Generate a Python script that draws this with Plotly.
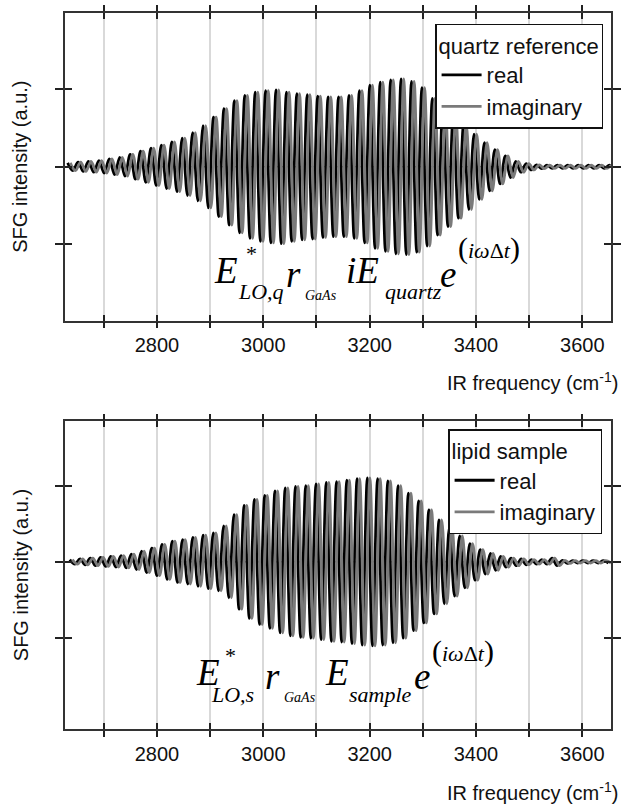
import plotly.graph_objects as go

# ---------------- data ----------------
# positions of the maxima of the real-part fringes (cm^-1) and fringe amplitudes (a.u.)
quartz_fringe_x = [2632.0, 2651.6, 2671.2, 2690.8, 2710.4, 2730.0, 2749.6, 2769.2, 2788.8, 2808.4,
                   2828.0, 2847.6, 2867.2, 2886.8, 2906.4, 2926.0, 2945.6, 2965.2, 2984.8, 3004.4,
                   3024.0, 3043.6, 3063.2, 3082.8, 3102.4, 3122.0, 3141.6, 3161.2, 3180.8, 3200.4,
                   3220.0, 3239.6, 3259.2, 3278.8, 3298.4, 3318.0, 3337.6, 3357.2, 3376.8, 3396.4,
                   3416.0, 3435.6, 3455.2, 3474.8, 3494.4, 3514.0, 3533.6, 3553.2, 3572.8, 3592.4,
                   3612.0, 3631.6, 3651.2]
quartz_amp = [0.05, 0.06, 0.07, 0.08, 0.10, 0.12, 0.16, 0.20, 0.24, 0.28,
              0.32, 0.37, 0.44, 0.53, 0.64, 0.75, 0.85, 0.92, 0.96, 0.98,
              0.99, 0.96, 0.94, 0.93, 0.91, 0.90, 0.90, 0.92, 0.98, 1.05,
              1.09, 1.12, 1.13, 1.10, 1.02, 0.88, 0.77, 0.66, 0.55, 0.42,
              0.31, 0.22, 0.14, 0.07, 0.04, 0.025, 0.02, 0.02, 0.02, 0.02,
              0.02, 0.02, 0.02]

sample_fringe_x = [2636.0, 2655.3, 2674.6, 2693.9, 2713.2, 2732.5, 2751.8, 2771.1, 2790.4, 2809.7,
                   2829.0, 2848.3, 2867.6, 2886.9, 2906.2, 2925.5, 2944.8, 2964.1, 2983.4, 3002.7,
                   3022.0, 3041.3, 3060.6, 3079.9, 3099.2, 3118.5, 3137.8, 3157.1, 3176.4, 3195.7,
                   3215.0, 3234.3, 3253.6, 3272.9, 3292.2, 3311.5, 3330.8, 3350.1, 3369.4, 3388.7,
                   3408.0, 3427.3, 3446.6, 3465.9, 3485.2, 3504.5, 3523.8, 3543.1, 3562.4, 3581.7,
                   3601.0, 3620.3, 3639.6]
sample_amp = [0.03, 0.04, 0.05, 0.06, 0.07, 0.08, 0.10, 0.14, 0.18, 0.23,
              0.27, 0.29, 0.32, 0.35, 0.38, 0.47, 0.62, 0.74, 0.82, 0.87,
              0.93, 0.97, 0.99, 1.00, 1.02, 1.04, 1.05, 1.07, 1.09, 1.10,
              1.09, 1.06, 1.00, 0.90, 0.80, 0.68, 0.55, 0.45, 0.34, 0.24,
              0.16, 0.11, 0.07, 0.05, 0.04, 0.03, 0.03, 0.05, 0.02, 0.015,
              0.015, 0.015, 0.015]

x_label_vals = [2800, 3000, 3200, 3400, 3600]
x_label_text = ["2800", "3000", "3200", "3400", "3600"]
x_minor_step = 100
y_tick_vals = [-1, 0, 1]

series_names = ["real", "imaginary"]
legend_titles = ["quartz reference", "lipid sample"]

# ---------------- helpers ----------------
W, H = 626, 811
ML, MR, MT, MB = 65, 9, 5, 82
PW, PH = W - ML - MR, H - MT - MB


def px(x):
    return (x - ML) / PW


def py(y):
    return 1 - (y - MT) / PH


def fringe_trace(fx, amp, phase):
    xs, ys = [], []
    n = len(fx)
    for k in range(n):
        step = (fx[k + 1] - fx[k]) if k + 1 < n else (fx[k] - fx[k - 1])
        x0 = fx[k] + phase * step
        xs += [x0, x0 + step / 2]
        ys += [amp[k], -amp[k]]
    return xs, ys


fig = go.Figure()
REAL_C, IMAG_C = "#000000", "#7a7a7a"
panels = [("x", "y", quartz_fringe_x, quartz_amp, "legend"),
          ("x2", "y2", sample_fringe_x, sample_amp, "legend2")]
for xa, ya, fx, amp, lg in panels:
    for name, col, ph in [(series_names[0], REAL_C, 0.0), (series_names[1], IMAG_C, 0.25)]:
        xs, ys = fringe_trace(fx, amp, ph)
        fig.add_trace(go.Scatter(x=xs, y=ys, mode="lines", name=name, xaxis=xa, yaxis=ya,
                                 legend=lg, line=dict(color=col, width=2.8, shape="spline")))

# empty traces to create overlay axes (for ticks crossing the frame)
fig.add_trace(go.Scatter(x=[], y=[], xaxis="x3", yaxis="y3", showlegend=False))
fig.add_trace(go.Scatter(x=[], y=[], xaxis="x4", yaxis="y4", showlegend=False))

XR = [2627, 3654]
YR1 = [-1.98, 1.98]
YR2 = [-2.19, 1.84]
TOP_DOM = [1 - (316 - MT) / PH, 1.0]
BOT_DOM = [0.0, 1 - (418 - MT) / PH]

FONT = "Liberation Sans, Arial, sans-serif"
TICKC = "#222"
common_x = dict(range=XR, tickmode="array", tickvals=x_label_vals, ticktext=x_label_text,
                ticks="outside", ticklen=6, tickwidth=1.5, tickcolor=TICKC,
                showline=True, linecolor="#333", linewidth=1.5, mirror="ticks",
                showgrid=True, gridcolor="#d9d9d9", gridwidth=1.5, zeroline=False,
                minor=dict(tick0=x_label_vals[0], dtick=x_minor_step, ticks="outside", ticklen=6,
                           tickwidth=1.5, tickcolor=TICKC, showgrid=True,
                           gridcolor="#d9d9d9", gridwidth=1.5),
                tickfont=dict(family=FONT, size=20, color="#111"))
common_y = dict(tickmode="array", tickvals=y_tick_vals, showticklabels=False,
                ticks="outside", ticklen=8, tickwidth=1.5, tickcolor=TICKC,
                showline=True, linecolor="#333", linewidth=1.5, mirror="ticks",
                showgrid=False, zeroline=False)
overlay_x = dict(range=XR, tickmode="array", tickvals=x_label_vals, showticklabels=False,
                 ticks="inside", ticklen=6, tickwidth=1.5, tickcolor=TICKC,
                 showline=True, linecolor="#333", linewidth=1.5, mirror="ticks",
                 showgrid=False, zeroline=False,
                 minor=dict(tick0=x_label_vals[0], dtick=x_minor_step, ticks="inside", ticklen=6,
                            tickwidth=1.5, tickcolor=TICKC, showgrid=False))
overlay_y = dict(tickmode="array", tickvals=y_tick_vals, showticklabels=False,
                 ticks="inside", ticklen=7, tickwidth=1.5, tickcolor=TICKC,
                 showline=True, linecolor="#333", linewidth=1.5, mirror="ticks",
                 showgrid=False, zeroline=False)

LEG_FONT = dict(family=FONT, size=22, color="#111")
fig.update_layout(
    width=W, height=H, margin=dict(l=ML, r=MR, t=MT, b=MB),
    paper_bgcolor="white", plot_bgcolor="white",
    xaxis=dict(domain=[0, 1], anchor="y", **common_x),
    yaxis=dict(domain=TOP_DOM, anchor="x", range=YR1, **common_y),
    xaxis2=dict(domain=[0, 1], anchor="y2", **common_x),
    yaxis2=dict(domain=BOT_DOM, anchor="x2", range=YR2, **common_y),
    xaxis3=dict(overlaying="x", anchor="y3", **overlay_x),
    yaxis3=dict(overlaying="y", anchor="x3", range=YR1, **overlay_y),
    xaxis4=dict(overlaying="x2", anchor="y4", **overlay_x),
    yaxis4=dict(overlaying="y2", anchor="x4", range=YR2, **overlay_y),
    showlegend=True,
    legend=dict(title=dict(text=legend_titles[0], font=LEG_FONT), font=LEG_FONT,
                x=px(609), xanchor="right", y=py(16), yanchor="top",
                bgcolor="white", bordercolor="#111", borderwidth=1.5,
                tracegroupgap=0, itemwidth=40),
    legend2=dict(title=dict(text=legend_titles[1], font=LEG_FONT), font=LEG_FONT,
                 x=px(608), xanchor="right", y=py(426), yanchor="top",
                 bgcolor="white", bordercolor="#111", borderwidth=1.5,
                 tracegroupgap=0, itemwidth=40),
)

# dotted zero lines
for xr, yr in [("x", "y"), ("x2", "y2")]:
    fig.add_shape(type="line", xref=xr, yref=yr, x0=XR[0], x1=XR[1], y0=0, y1=0,
                  line=dict(color="#222", width=1, dash="dot"), layer="below")

# axis titles
for ycen in [160, 573]:
    fig.add_annotation(text="SFG intensity (a.u.)", xref="paper", yref="paper",
                       x=px(20), y=py(ycen), textangle=-90, showarrow=False,
                       font=dict(family=FONT, size=20, color="#111"),
                       xanchor="center", yanchor="middle")
for ycen in [378, 792]:
    fig.add_annotation(text="IR frequency (cm<sup>-1</sup>)", xref="paper", yref="paper",
                       x=px(626), y=py(ycen), showarrow=False,
                       font=dict(family=FONT, size=20, color="#111"),
                       xanchor="right", yanchor="middle")

# formulas (Times italic pieces)
SERIF = "Liberation Serif, Times New Roman, serif"


def piece(text, x, y, size):
    fig.add_annotation(text=text, xref="paper", yref="paper", x=px(x), y=py(y),
                       showarrow=False, xanchor="left", yanchor="middle",
                       font=dict(family=SERIF, size=size, color="#000"))


PAREN = "<span style='font-size:30px'>(</span><i>iω</i>Δ<i>t</i><span style='font-size:30px'>)</span>"
top_pieces = [("<i>E</i>", 214, 265, 37), ("*", 246, 248, 22), ("<i>LO,q</i>", 238, 287, 22),
              ("<i>r</i>", 286, 269, 37), ("<i>GaAs</i>", 306, 291, 14),
              ("<i>iE</i>", 347, 265, 37), ("<i>quartz</i>", 386, 287, 22),
              ("<i>e</i>", 442, 269, 37), (PAREN, 460, 243, 22)]
bot_pieces = [("<i>E</i>", 195, 672, 37), ("*", 225, 655, 22), ("<i>LO,s</i>", 211, 694, 22),
              ("<i>r</i>", 265, 676, 37), ("<i>GaAs</i>", 284, 697, 14),
              ("<i>E</i>", 326, 672, 37), ("<i>sample</i>", 350, 694, 22),
              ("<i>e</i>", 416, 676, 37), (PAREN, 434, 650, 22)]
for t, x, y, s in top_pieces + bot_pieces:
    piece(t, x, y, s)

fig.write_html("out.html")
